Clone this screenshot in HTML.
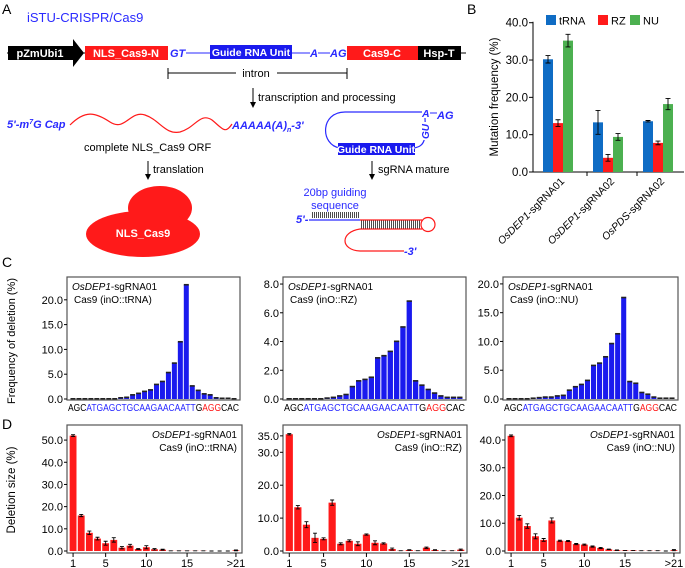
<!DOCTYPE html>
<html><head><meta charset="utf-8"><style>
html,body{margin:0;padding:0;background:#fff}
svg{display:block;font-family:"Liberation Sans",Arial,sans-serif}
</style></head><body>
<svg id="fig" width="685" height="568" viewBox="0 0 685 568">
<text x="2" y="14" font-size="14">A</text>
<text x="467" y="14" font-size="14">B</text>
<text x="2" y="267" font-size="14">C</text>
<text x="2" y="429" font-size="14">D</text>

<g>
<text x="27" y="22" font-size="13" fill="#2a2aff">iSTU-CRISPR/Cas9</text>
<line x1="7" y1="53" x2="466" y2="53" stroke="#000" stroke-width="1"/>
<path d="M8,46 H73 V39 L84,53 L73,67 V60 H8 Z" fill="#000"/>
<text x="40" y="57" font-size="11" fill="#fff" text-anchor="middle" font-weight="bold">pZmUbi1</text>
<rect x="85" y="46" width="83" height="14" fill="#ff1a1a"/>
<text x="126" y="57" font-size="11" fill="#fff" text-anchor="middle" font-weight="bold">NLS_Cas9-N</text>
<rect x="168" y="46" width="179" height="14" fill="#fff"/>
<text x="170" y="57" font-size="11" fill="#2a2aff" font-weight="bold" font-style="italic">GT</text>
<line x1="186" y1="53" x2="210" y2="53" stroke="#2a2aff"/>
<rect x="210" y="45" width="82" height="14" fill="#1a1aee"/>
<text x="251" y="56" font-size="10.5" fill="#fff" text-anchor="middle" font-weight="bold">Guide RNA Unit</text>
<line x1="292" y1="53" x2="310" y2="53" stroke="#2a2aff"/>
<text x="310" y="57" font-size="11" fill="#2a2aff" font-weight="bold" font-style="italic">A</text>
<line x1="318" y1="53" x2="330" y2="53" stroke="#2a2aff"/>
<text x="330" y="57" font-size="11" fill="#2a2aff" font-weight="bold" font-style="italic">AG</text>
<rect x="347" y="46" width="71" height="14" fill="#ff1a1a"/>
<text x="382" y="57" font-size="11" fill="#fff" text-anchor="middle" font-weight="bold">Cas9-C</text>
<rect x="418" y="46" width="43" height="14" fill="#000"/>
<text x="439" y="57" font-size="11" fill="#fff" text-anchor="middle" font-weight="bold">Hsp-T</text>
<g stroke="#000" stroke-width="1">
<line x1="168" y1="73" x2="236" y2="73"/><line x1="277" y1="73" x2="347" y2="73"/>
<line x1="168" y1="68" x2="168" y2="79"/><line x1="347" y1="68" x2="347" y2="79"/></g>
<text x="256" y="77" font-size="11" text-anchor="middle">intron</text>
<line x1="253" y1="88" x2="253" y2="104" stroke="#000"/><path d="M250,102 L253,108 L256,102 Z"/>
<text x="258" y="101" font-size="11">transcription and processing</text>
<text x="7" y="128" font-size="11" fill="#2a2aff" font-weight="bold" font-style="italic">5'-m<tspan font-size="7" dy="-4">7</tspan><tspan dy="4">G Cap</tspan></text>
<path d="M70,125 C85,110 95,112 110,122 C125,132 130,110 145,115 C160,120 165,135 180,132 C195,128 200,112 212,120 C222,128 225,135 232,124" fill="none" stroke="#ff1a1a" stroke-width="1.2"/>
<text x="232" y="129" font-size="11" fill="#2a2aff" font-weight="bold" font-style="italic">AAAAA(A)<tspan font-size="7" dy="3">n</tspan><tspan dy="-3">-3'</tspan></text>
<text x="84" y="151" font-size="11">complete NLS_Cas9 ORF</text>
<line x1="148" y1="161" x2="148" y2="176" stroke="#000"/><path d="M145,174 L148,180 L151,174 Z"/>
<text x="153" y="173" font-size="11">translation</text>
<g fill="#ff1a1a">
<ellipse cx="160" cy="208" rx="32" ry="22"/><ellipse cx="143" cy="234" rx="57" ry="23"/></g>
<text x="143" y="237" font-size="11" fill="#fff" text-anchor="middle" font-weight="bold">NLS_Cas9</text>
<path d="M422,112 L345,112 C320,112 320,145 340,148" fill="none" stroke="#2a2aff" stroke-width="1.2"/>
<path d="M414,148 C425,146 426,140 425,118" fill="none" stroke="#2a2aff" stroke-width="1.2"/>
<text x="422" y="117" font-size="10.5" fill="#2a2aff" font-weight="bold" font-style="italic">A</text>
<line x1="430" y1="113" x2="437" y2="113" stroke="#2a2aff"/>
<text x="437" y="119" font-size="11" fill="#2a2aff" font-weight="bold" font-style="italic">AG</text>
<rect x="420" y="122" width="10" height="18" fill="#fff"/>
<text x="429" y="139" font-size="10" fill="#2a2aff" font-weight="bold" font-style="italic" transform="rotate(-90 429 139)">GU</text>
<rect x="338" y="143" width="77" height="12" fill="#1a1aee"/>
<text x="376" y="153" font-size="10.5" fill="#fff" text-anchor="middle" font-weight="bold">Guide RNA Unit</text>
<line x1="372" y1="161" x2="372" y2="176" stroke="#000"/><path d="M369,174 L372,180 L375,174 Z"/>
<text x="378" y="173" font-size="11">sgRNA mature</text>
<text x="335" y="196" font-size="11" fill="#2a2aff" text-anchor="middle">20bp guiding</text>
<text x="335" y="209" font-size="11" fill="#2a2aff" text-anchor="middle">sequence</text>
<text x="296" y="223" font-size="11" fill="#2a2aff" font-weight="bold" font-style="italic">5'-</text>
<line x1="309" y1="220" x2="360" y2="220" stroke="#2a2aff" stroke-width="1.2"/>
<line x1="312" y1="215" x2="359" y2="215" stroke="#000" stroke-width="6" stroke-dasharray="0.7 1.3"/>
<line x1="360" y1="220" x2="422" y2="220" stroke="#ff1a1a" stroke-width="1.2"/>
<line x1="360" y1="229" x2="422" y2="229" stroke="#ff1a1a" stroke-width="1.2"/>
<line x1="361" y1="224.5" x2="421" y2="224.5" stroke="#000" stroke-width="8" stroke-dasharray="0.7 1.3"/>
<circle cx="428" cy="224.5" r="7" fill="none" stroke="#ff1a1a" stroke-width="1.2"/>
<path d="M360,229 C340,232 340,250 360,251 L404,251" fill="none" stroke="#ff1a1a" stroke-width="1.2"/>
<text x="404" y="255" font-size="11" fill="#2a2aff" font-weight="bold" font-style="italic">-3'</text>
</g>

<g id="panelB"></g>
<g id="panelC"></g>
<g id="panelD"></g>
</svg>
<script>
// ---- Panel B data ----
const bCategories = ["OsDEP1-sgRNA01","OsDEP1-sgRNA02","OsPDS-sgRNA02"];
const bSeries = ["tRNA","RZ","NU"];
const bTRNA = [30.2, 13.3, 13.6];
const bRZ = [13.1, 3.8, 7.8];
const bNU = [35.2, 9.4, 18.2];
const bErrTRNA = [1.0, 3.2, 0.2];
const bErrRZ = [0.9, 0.9, 0.5];
const bErrNU = [1.7, 0.9, 1.5];
const bTicks = [0, 10, 20, 30, 40];
// ---- Panel C data ----
const cSequence = "AGCATGAGCTGCAAGAACAATTGAGGCAC";
const cTRNA = [0,0,0,0,0,0,0,0,0.2,0.3,0.8,1.1,1.5,1.8,2.9,3.5,5.3,7.2,11.5,23.0,2.6,1.7,1.0,0.8,0.2,0.1,0.1,0];
const cRZ = [0,0,0,0,0,0,0.05,0.1,0.2,0.3,0.85,1.25,1.35,1.5,2.85,3.0,3.3,4.0,5.0,6.8,1.25,0.95,0.65,0.4,0.2,0.1,0.1,0.1];
const cNU = [0,0,0,0,0.1,0.2,0.3,0.3,0.5,0.6,1.5,2.1,2.5,3.2,5.8,6.2,7.3,9.6,11.3,17.6,3.0,2.7,1.1,0.8,0.3,0.1,0.1,0.1];
const cTicksTRNA = [0,5,10,15,20];
const cTicksRZ = [0,2,4,6,8];
const cTicksNU = [0,5,10,15,20];
// ---- Panel D data ----
const dSizes = ["1","2","3","4","5","6","7","8","9","10","11","12","13","14","15","16","17","18","19","20",">21"];
const dTickLabels = ["1","5","10","15",">21"];
const dTRNA = [52,16,8.2,5.6,3.5,5.0,1.5,2.4,0.9,1.7,0.8,0.6,0.1,0.1,0.1,0.1,0.1,0,0,0,0.3];
const dErrTRNA = [0.4,0.5,0.8,0.6,0.9,1.0,0.5,0.6,0.2,0.7,0.3,0.2,0,0,0,0,0,0,0,0,0.2];
const dRZ = [35.5,13.3,8.0,4.0,3.7,14.7,2.2,3.1,2.2,5.0,2.5,2.3,0.6,0.1,0.3,0.1,1.0,0.3,0.1,0.1,0.4];
const dErrRZ = [0.2,0.5,0.9,1.4,0.3,0.8,0.3,0.3,0.6,0.2,0.6,0.2,0.3,0,0.1,0,0.2,0.1,0,0,0.2];
const dNU = [41.5,12.0,9.0,5.3,4.0,11.0,3.7,3.6,2.5,2.3,1.6,1.1,0.6,0.3,0.2,0.2,0.1,0.1,0.1,0,0.3];
const dErrNU = [0.3,0.8,0.8,0.9,0.5,0.9,0.2,0.2,0.2,0.2,0.2,0.2,0.1,0.1,0,0,0,0,0,0,0.2];
const dTicksTRNA = [0,10,20,30,40,50];
const dTicksRZ = [0,10,20,30,35];
const dTicksNU = [0,10,20,30,40];

const NS = "http://www.w3.org/2000/svg";
function mk(parent, tag, attrs, text){
  const e = document.createElementNS(NS, tag);
  for (const k in attrs) e.setAttribute(k, attrs[k]);
  if (text !== undefined) e.textContent = text;
  parent.appendChild(e);
  return e;
}
function fmt(v){ return v.toFixed(1); }

(function(){
  const g = document.getElementById("panelB");
  const x0 = 533, x1 = 684, yZero = 172, yTop = 22.7, vmax = 40;
  const y = v => yZero - (v / vmax) * (yZero - yTop);
  const colors = ["#0f6cc4", "#ff1a1a", "#4cb050"];
  const vals = [bTRNA, bRZ, bNU], errs = [bErrTRNA, bErrRZ, bErrNU];
  const groupW = 50, barW = 10, off = 10;
  const yAxis = mk(g, "line", {x1:x0, y1:yTop-1, x2:x0, y2:yZero, stroke:"#000"});
  
  
  const xAxis = mk(g, "line", {x1:x0, y1:yZero, x2:x1, y2:yZero, stroke:"#000"});
  
  
  bTicks.forEach(t => {
    mk(g, "line", {x1:x0-4, y1:y(t), x2:x0, y2:y(t), stroke:"#000"});
    const tl = mk(g, "text", {x:x0-5, y:y(t)+4, "font-size":11.5, "text-anchor":"end"}, fmt(t));
    
    
  });
  bCategories.forEach((c, i) => {
    const gx = x0 + off + i * groupW;
    if (i > 0) mk(g, "line", {x1:gx-6, y1:yZero, x2:gx-6, y2:yZero+4, stroke:"#000"});
    vals.forEach((arr, s) => {
      const bx = gx + s * barW, v = arr[i];
      const r = mk(g, "rect", {x:bx, y:y(v), width:barW, height:yZero - y(v), fill:colors[s]});
      
      
      const e = errs[s][i], cx = bx + barW/2;
      mk(g, "path", {d:`M${cx},${y(v+e)}V${y(v-e)}M${cx-2.5},${y(v+e)}h5M${cx-2.5},${y(v-e)}h5`, stroke:"#000", fill:"none", "stroke-width":0.9});
    });
    const lx = gx + 22, ly = yZero + 10;
    const parts = c.split("-");
    const lab = mk(g, "text", {x:lx, y:ly, "font-size":10.5, "text-anchor":"end", transform:`rotate(-45 ${lx} ${ly})`});
    
    
    mk(lab, "tspan", {"font-style":"italic"}, parts[0]);
    mk(lab, "tspan", {}, "-" + parts[1]);
  });
  const yt = mk(g, "text", {x:498, y:97, "font-size":11.5, "text-anchor":"middle", transform:"rotate(-90 498 97)"}, "Mutation frequency (%)");
  
  
  const legX = [546, 598, 630];
  bSeries.forEach((s, i) => {
    const lg = mk(g, "g", {});
    
    
    mk(lg, "rect", {x:legX[i], y:15, width:10, height:10, fill:colors[i]});
    mk(lg, "text", {x:legX[i]+13, y:24.5, "font-size":11}, s);
  });
})();

function boxChart(parent, o){
  const g = mk(parent, "g", {});
  
  
  const y = v => o.yZero - (v / o.vmax) * (o.yZero - o.top);
  const n = o.values.length;
  const slot = (o.x1 - o.x0 - 2*o.pad) / n;
  o.values.forEach((v, i) => {
    const bx = o.x0 + o.pad + i * slot + slot*0.08;
    const bw = slot * 0.84;
    const r = mk(g, "rect", {x:bx, y:y(v), width:bw, height:Math.max(0, o.yZero - y(v)), fill:o.color});
    
    
    const cx = bx + bw/2;
    if (o.errs) {
      const e = o.errs[i];
      mk(g, "path", {d:`M${cx},${y(v+e)}V${y(Math.max(0,v-e))}M${cx-2},${y(v+e)}h4M${cx-2},${y(Math.max(0,v-e))}h4`, stroke:"#000", fill:"none", "stroke-width":0.9});
    } else {
      mk(g, "rect", {x:bx, y:y(v)-1, width:bw, height:1.6, fill:"#222"});
    }
  });
  const box = mk(g, "rect", {x:o.x0, y:o.top, width:o.x1-o.x0, height:o.bottom-o.top, fill:"none", stroke:"#555", "stroke-width":1.2});
  
  
  o.ticks.forEach(t => {
    mk(g, "line", {x1:o.x0-3, y1:y(t), x2:o.x0, y2:y(t), stroke:"#000"});
    const tl = mk(g, "text", {x:o.x0-4, y:y(t)+4, "font-size":11, "text-anchor":"end"}, fmt(t));
    
    
  });
  const anchor = o.right ? "end" : "start";
  const tx = o.right ? o.x1 - 5 : o.x0 + 5;
  const t1 = mk(g, "text", {x:tx, y:o.top+13, "font-size":10, "text-anchor":anchor});
  
  
  mk(t1, "tspan", {"font-style":"italic"}, "OsDEP1");
  mk(t1, "tspan", {}, "-sgRNA01");
  const t2 = mk(g, "text", {x:tx + (o.right?0:2), y:o.top+26, "font-size":10, "text-anchor":anchor}, o.label2);
  
  
  return {g, slot, y};
}

(function(){
  const p = document.getElementById("panelC");
  const boxes = [[67,240],[283,466],[503,678]];
  const sets = [
    {vals:cTRNA, ticks:cTicksTRNA, vmax:24.6, label:"Cas9 (inO::tRNA)", nm:"trna"},
    {vals:cRZ, ticks:cTicksRZ, vmax:8.49, label:"Cas9 (inO::RZ)", nm:"rz"},
    {vals:cNU, ticks:cTicksNU, vmax:21.2, label:"Cas9 (inO::NU)", nm:"nu"}];
  sets.forEach((s, k) => {
    const [x0, x1] = boxes[k];
    boxChart(p, {name:"c-chart-" + s.nm, barName:"c-bar-" + s.nm, x0, x1, top:277, bottom:400, yZero:399, vmax:s.vmax, values:s.vals, ticks:s.ticks, color:"#1a1aee", pad:3, label2:s.label, right:false});
    const seq = mk(p, "text", {x:x0+1, y:411, "font-size":10, textLength:x1-x0-2, lengthAdjust:"spacingAndGlyphs"});
    
    
    const segs = [[0,3,"#000"],[3,22,"#2a2aff"],[22,23,"#000"],[23,26,"#ff1a1a"],[26,29,"#000"]];
    segs.forEach(([a,b,col]) => mk(seq, "tspan", {fill:col}, cSequence.slice(a,b)));
  });
  const yt = mk(p, "text", {x:15, y:341, "font-size":11, "text-anchor":"middle", transform:"rotate(-90 15 341)"}, "Frequency of deletion (%)");
  
  
})();

(function(){
  const p = document.getElementById("panelD");
  const boxes = [[67,242],[283,467],[505,680]];
  const sets = [
    {vals:dTRNA, errs:dErrTRNA, ticks:dTicksTRNA, vmax:56.8, label:"Cas9 (inO::tRNA)", nm:"trna"},
    {vals:dRZ, errs:dErrRZ, ticks:dTicksRZ, vmax:38.3, label:"Cas9 (inO::RZ)", nm:"rz"},
    {vals:dNU, errs:dErrNU, ticks:dTicksNU, vmax:45.4, label:"Cas9 (inO::NU)", nm:"nu"}];
  sets.forEach((s, k) => {
    const [x0, x1] = boxes[k];
    const c = boxChart(p, {name:"d-chart-" + s.nm, barName:"d-bar-" + s.nm, x0, x1, top:425, bottom:553, yZero:551, vmax:s.vmax, values:s.vals, errs:s.errs, ticks:s.ticks, color:"#ff1a1a", pad:2, label2:s.label, right:true});
    dTickLabels.forEach(lbl => {
      const i = dSizes.indexOf(lbl);
      const cx = x0 + 2 + (i + 0.5) * c.slot;
      mk(p, "line", {x1:cx, y1:553, x2:cx, y2:557, stroke:"#000"});
      const tl = mk(p, "text", {x:cx, y:567, "font-size":11, "text-anchor":"middle"}, lbl);
      
      
    });
  });
  const yt = mk(p, "text", {x:15, y:490, "font-size":11.5, "text-anchor":"middle", transform:"rotate(-90 15 490)"}, "Deletion size (%)");
  
  
})();
</script>
</body></html>
